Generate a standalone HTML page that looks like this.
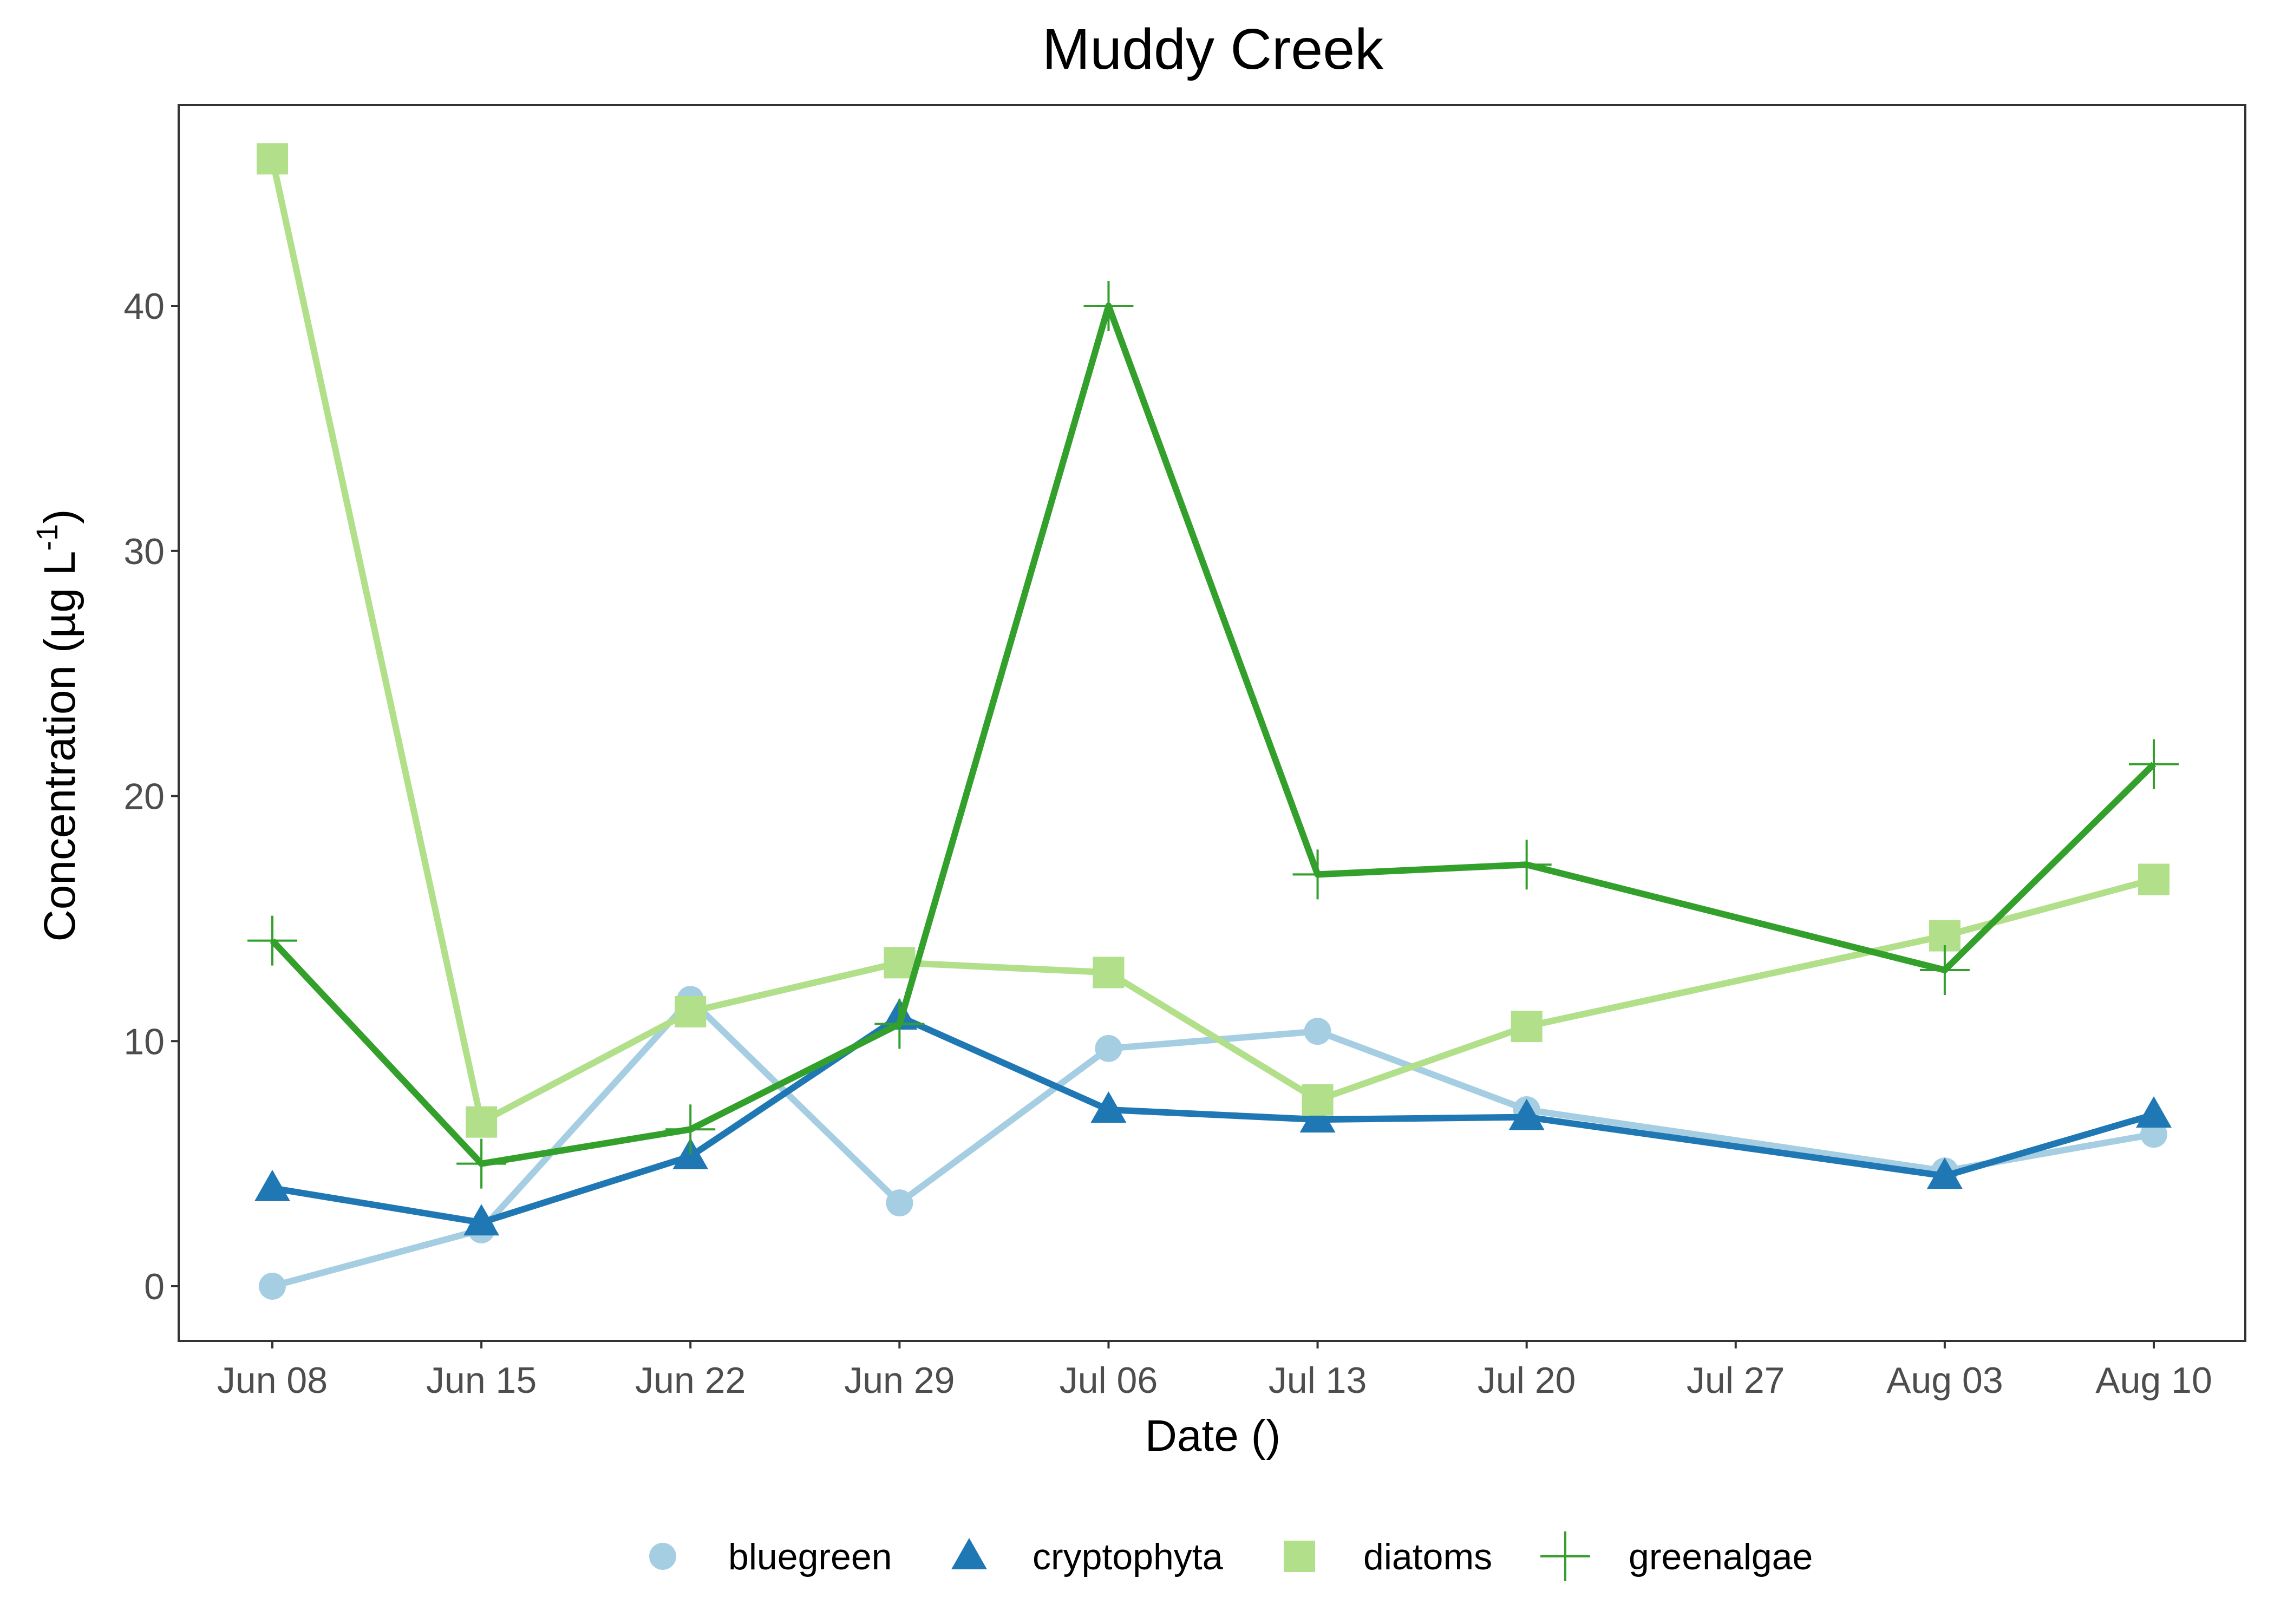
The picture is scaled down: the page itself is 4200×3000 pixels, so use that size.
<!DOCTYPE html>
<html><head><meta charset="utf-8"><style>
html,body{margin:0;padding:0;background:#fff;}
svg{display:block;font-family:"Liberation Sans",Arial,sans-serif;}
</style></head><body>
<svg id="chart" width="4200" height="3000" viewBox="0 0 4200 3000">
<text x="2240" y="127" font-size="106" text-anchor="middle" fill="#000">Muddy Creek</text>
<g id="plot"></g>
</svg>
<script>
const days = [0, 7, 14, 21, 28, 35, 42, 56, 63];
const bluegreen = [0, 2.3, 11.7, 3.4, 9.7, 10.4, 7.2, 4.7, 6.2];
const cryptophyta = [4.0, 2.6, 5.3, 11.0, 7.2, 6.8, 6.9, 4.5, 7.0];
const diatoms = [46.0, 6.7, 11.2, 13.2, 12.8, 7.6, 10.6, 14.3, 16.6];
const greenalgae = [14.1, 5.0, 6.4, 10.7, 40.0, 16.8, 17.2, 12.9, 21.3];
const xTickDays = [0, 7, 14, 21, 28, 35, 42, 49, 56, 63];
const xTickLabels = ["Jun 08","Jun 15","Jun 22","Jun 29","Jul 06","Jul 13","Jul 20","Jul 27","Aug 03","Aug 10"];
const yTicks = [0, 10, 20, 30, 40];

const NS = "http://www.w3.org/2000/svg";
const L = 330, R = 4147, T = 194, B = 2477;
const X = d => 503 + (d / 63) * (3978 - 503);
const Y = v => 2376 - v * (2376 - 565) / 40;
const g = document.getElementById('plot');
function mk(tag, attrs, parent) {
  const e = document.createElementNS(NS, tag);
  for (const k in attrs) e.setAttribute(k, attrs[k]);
  (parent || g).appendChild(e);
  return e;
}
const frame = mk('rect', {x: L, y: T, width: R - L, height: B - T, fill: 'none', stroke: '#333', 'stroke-width': 4});



yTicks.forEach(v => {
  const t = mk('line', {x1: L - 14, x2: L, y1: Y(v), y2: Y(v), stroke: '#333', 'stroke-width': 4});
  
  
  const tx = mk('text', {x: L - 26, y: Y(v) + 24, 'font-size': 68, 'text-anchor': 'end', fill: '#4d4d4d'});
  tx.textContent = v;
  
  
});
xTickDays.forEach((d, i) => {
  const t = mk('line', {x1: X(d), x2: X(d), y1: B, y2: B + 14, stroke: '#333', 'stroke-width': 4});
  
  
  const tx = mk('text', {x: X(d), y: B + 96, 'font-size': 68, 'text-anchor': 'middle', fill: '#4d4d4d'});
  tx.textContent = xTickLabels[i];
  
  
});
const xt = mk('text', {x: 2240, y: 2680, 'font-size': 82, 'text-anchor': 'middle', fill: '#000'});
xt.textContent = 'Date ()';


const yt = mk('text', {x: 0, y: 0, 'font-size': 82, 'text-anchor': 'middle', fill: '#000', transform: 'translate(138,1340) rotate(-90)'});
yt.innerHTML = 'Concentration (µg L<tspan dy="-32" font-size="56">-1</tspan><tspan dy="32">)</tspan>';



function marker(shape, cx, cy, color, parent) {
  let e;
  if (shape === 'circle') e = mk('circle', {cx: cx, cy: cy, r: 25, fill: color}, parent);
  else if (shape === 'triangle') e = mk('polygon', {points: `${cx},${cy-34} ${cx-33},${cy+24} ${cx+33},${cy+24}`, fill: color}, parent);
  else if (shape === 'square') e = mk('rect', {x: cx - 29, y: cy - 29, width: 58, height: 58, fill: color}, parent);
  else e = mk('path', {d: `M${cx-46},${cy}H${cx+46}M${cx},${cy-46}V${cy+46}`, stroke: color, 'stroke-width': 4, fill: 'none'}, parent);
  return e;
}
const series = [
  {name: 'bluegreen', vals: bluegreen, color: '#A6CEE3', shape: 'circle'},
  {name: 'cryptophyta', vals: cryptophyta, color: '#1F78B4', shape: 'triangle'},
  {name: 'diatoms', vals: diatoms, color: '#B2DF8A', shape: 'square'},
  {name: 'greenalgae', vals: greenalgae, color: '#33A02C', shape: 'plus'}
];
series.forEach(s => {
  const sg = mk('g', {});
  
  
  const pts = s.vals.map((v, i) => X(days[i]) + ',' + Y(v)).join(' ');
  const pl = mk('polyline', {points: pts, fill: 'none', stroke: s.color, 'stroke-width': 12, 'stroke-linejoin': 'round'}, sg);
  
  
  s.vals.forEach((v, i) => {
    const m = marker(s.shape, X(days[i]), Y(v), s.color, sg);
    
    
  });
});
const legX = [1224, 1790, 2400, 2891];
const legTX = [1345, 1907, 2518, 3008];
const lg = mk('g', {});


series.forEach((s, i) => {
  const m = marker(s.shape, legX[i], 2875, s.color, lg);
  
  
  const t = mk('text', {x: legTX[i], y: 2899, 'font-size': 68, fill: '#000'}, lg);
  t.textContent = s.name;
  
  
});
</script>
</body></html>
